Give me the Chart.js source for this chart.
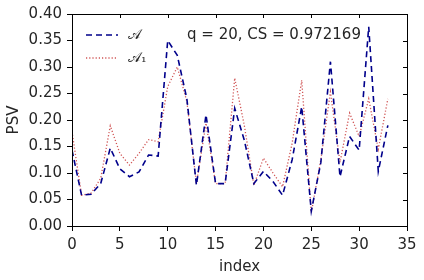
<!DOCTYPE html>
<html>
<head>
<meta charset="utf-8">
<script src="https://cdn.jsdelivr.net/npm/chart.js@4"></script>
<style>
html,body{margin:0;padding:0;background:#fff;}
#wrap{width:424px;height:280px;position:relative;}
</style>
</head>
<body>
<div id="wrap"><canvas id="c" width="424" height="280"></canvas></div>
<script>
const indices = [0,1,2,3,4,5,6,7,8,9,10,11,12,13,14,15,16,17,18,19,20,21,22,23,24,25,26,27,28,29,30,31,32,33];
const psvA  = [0.143,0.058,0.060,0.080,0.147,0.108,0.093,0.102,0.134,0.132,0.350,0.322,0.240,0.077,0.210,0.080,0.080,0.222,0.162,0.080,0.103,0.084,0.058,0.125,0.225,0.028,0.120,0.310,0.093,0.169,0.143,0.376,0.103,0.190];
const psvA1 = [0.178,0.058,0.062,0.090,0.189,0.137,0.115,0.137,0.163,0.159,0.263,0.300,0.235,0.080,0.194,0.080,0.080,0.279,0.190,0.077,0.128,0.100,0.074,0.156,0.275,0.025,0.125,0.253,0.120,0.213,0.169,0.240,0.145,0.240];
const xTicks = [0,5,10,15,20,25,30,35];
const yTicks = [0.00,0.05,0.10,0.15,0.20,0.25,0.30,0.35,0.40];
const seriesLabels = ['𝒜','𝒜₁'];
const annotationText = 'q = 20, CS = 0.972169';

const FONT = "'DejaVu Sans'";
const TXT = '#262626';

const framePlugin = {
  id: 'frame',
  afterDatasetsDraw(chart) {
    const {ctx, chartArea: a, scales} = chart;
    ctx.save();
    ctx.strokeStyle = '#000';
    ctx.lineWidth = 1;
    ctx.strokeRect(Math.round(a.left)+0.5, Math.round(a.top)+0.5, Math.round(a.right-a.left), Math.round(a.bottom-a.top));
    ctx.beginPath();
    xTicks.forEach(v => {
      const px = Math.round(scales.x.getPixelForValue(v))+0.5;
      ctx.moveTo(px, a.top); ctx.lineTo(px, a.top+4);
    });
    yTicks.forEach(v => {
      const py = Math.round(scales.y.getPixelForValue(v))+0.5;
      ctx.moveTo(a.right, py); ctx.lineTo(a.right-4, py);
    });
    ctx.stroke();
    ctx.font = "14px 'DejaVu Serif', 'DejaVu Sans', serif";
    ctx.textBaseline = 'middle';
    chart.data.datasets.forEach((ds, i) => {
      const y = a.top + 21 + i*23;
      const x0 = a.left + 14;
      ctx.beginPath();
      ctx.strokeStyle = ds.borderColor;
      ctx.lineWidth = ds.borderWidth;
      ctx.setLineDash(ds.borderDash);
      ctx.moveTo(x0, y); ctx.lineTo(x0+32, y);
      ctx.stroke();
      ctx.setLineDash([]);
      ctx.fillStyle = TXT;
      ctx.fillText(ds.label, x0+42, y);
    });
    ctx.font = "15px " + FONT;
    ctx.fillStyle = TXT;
    ctx.textBaseline = 'middle';
    ctx.fillText(annotationText, a.left + 115, a.top + 21);
    ctx.restore();
  }
};

new Chart(document.getElementById('c'), {
  type: 'line',
  data: {
    datasets: [
      {
        label: seriesLabels[0],
        data: indices.map((x,i) => ({x, y: psvA[i]})),
        borderColor: '#00008b',
        borderWidth: 1.6,
        borderDash: [6,4],
        pointRadius: 0,
        fill: false,
        tension: 0
      },
      {
        label: seriesLabels[1],
        data: indices.map((x,i) => ({x, y: psvA1[i]})),
        borderColor: '#d05555',
        borderWidth: 1.3,
        borderDash: [1.2,2],
        pointRadius: 0,
        fill: false,
        tension: 0
      }
    ]
  },
  options: {
    responsive: false,
    animation: false,
    layout: {padding: {left: 0, right: 17, top: 14, bottom: 0}},
    plugins: {legend: {display: false}, tooltip: {enabled: false}},
    scales: {
      x: {
        type: 'linear', min: 0, max: 35,
        afterBuildTicks(s) { s.ticks = xTicks.map(v => ({value: v})); },
        afterFit(s) { s.height = 54; },
        ticks: {color: TXT, font: {family: FONT, size: 15}, padding: 5, maxRotation: 0},
        grid: {drawOnChartArea: false, tickLength: 5, color: '#000'},
        border: {color: '#000'},
        title: {display: true, text: 'index', color: TXT, font: {family: FONT, size: 15}, padding: {top: 0, bottom: 4}}
      },
      y: {
        type: 'linear', min: 0, max: 0.4,
        afterBuildTicks(s) { s.ticks = yTicks.map(v => ({value: v})); },
        afterFit(s) { s.width = 72; },
        ticks: {color: TXT, font: {family: FONT, size: 15}, padding: 5, callback: v => v.toFixed(2)},
        grid: {drawOnChartArea: false, tickLength: 5, color: '#000'},
        border: {color: '#000'},
        title: {display: true, text: 'PSV', color: TXT, font: {family: FONT, size: 15}, padding: {top: 5, bottom: 0}}
      }
    }
  },
  plugins: [framePlugin]
});
</script>
</body>
</html>
